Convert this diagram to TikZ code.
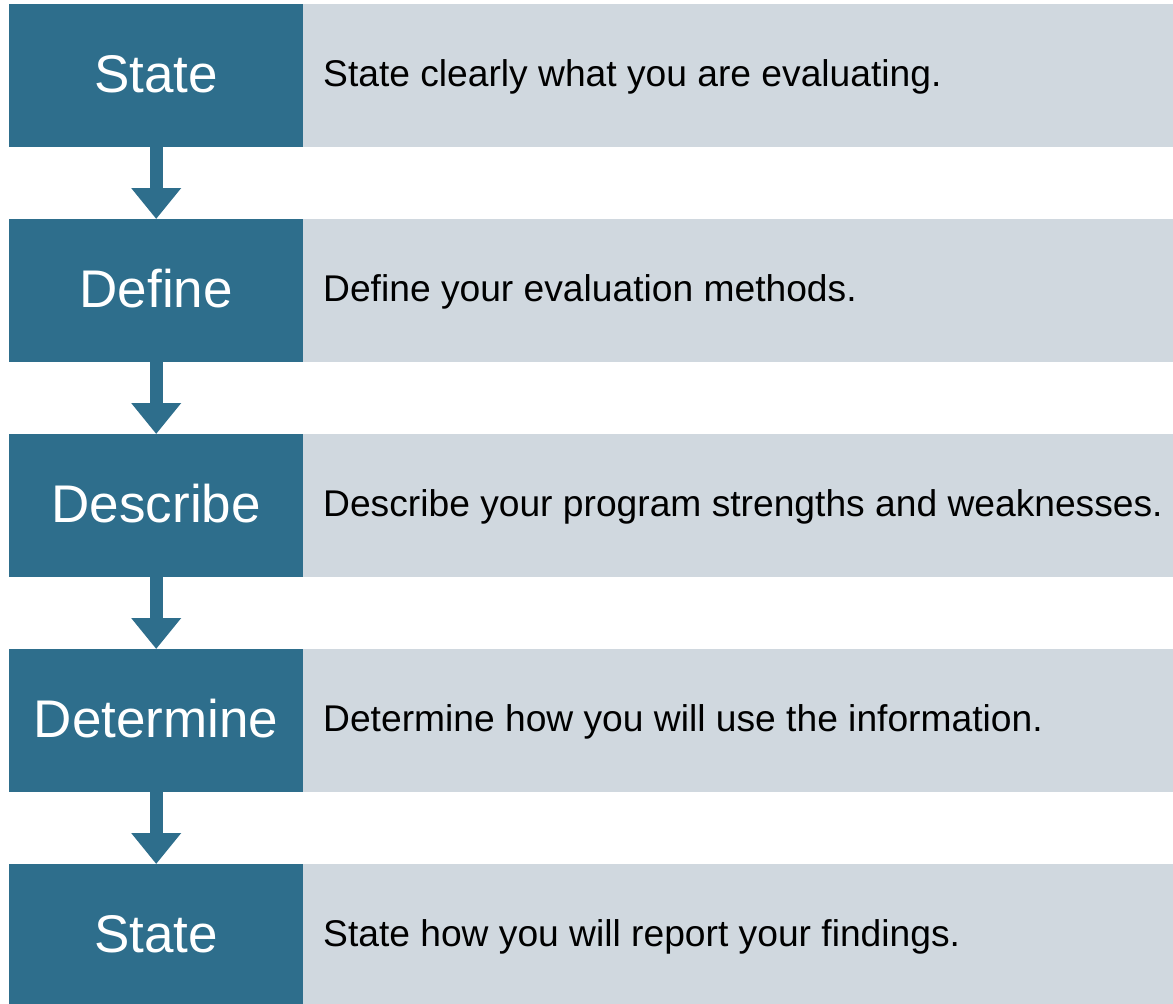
\documentclass[tikz,border=0pt]{standalone}
\usepackage{fontspec}
\setmainfont{Liberation Sans}
\usetikzlibrary{arrows.meta,calc}
\definecolor{stepblue}{HTML}{2E6E8C}
\definecolor{stepgrey}{HTML}{D0D8DF}
\begin{document}
\begin{tikzpicture}[x=1pt,y=-1pt,
  labelbox/.style={rectangle,fill=stepblue,draw=none,inner sep=0pt,minimum width=294pt,minimum height=143pt,anchor=north west},
  descbox/.style={rectangle,fill=stepgrey,draw=none,inner sep=0pt,minimum width=870pt,minimum height=143pt,anchor=north west},
  labeltext/.style={text=white,font=\fontsize{53}{60}\selectfont,anchor=base,inner sep=0pt},
  desctext/.style={text=black,font=\fontsize{37.2}{42}\selectfont,anchor=base west,inner sep=0pt},
  flowarrow/.style={draw=stepblue,line width=13pt,-{Triangle[width=48pt,length=31pt]}}]
\useasboundingbox (0,0) rectangle (1173,1004);
\clip (0,0) rectangle (1173,1004);
\foreach \i/\lab/\desc in {1/State/State clearly what you are evaluating.,
  2/Define/Define your evaluation methods.,
  3/Describe/Describe your program strengths and weaknesses.,
  4/Determine/Determine how you will use the information.,
  5/State/State how you will report your findings.}{
  \pgfmathsetmacro{\t}{4+215*(\i-1)}
  \node[descbox] (d\i) at (303,\t) {};
  \node[labelbox] (b\i) at (9,\t) {};
  \node[labeltext] (l\i) at ($(b\i.north)+(0,88)$) {\lab};
  \node[desctext] (t\i) at ($(d\i.north west)+(20,82)$) {\desc};
}
\foreach \i/\j in {1/2,2/3,3/4,4/5}{
  \draw[flowarrow] (b\i.south) -- (b\j.north);
}
\end{tikzpicture}
\end{document}
